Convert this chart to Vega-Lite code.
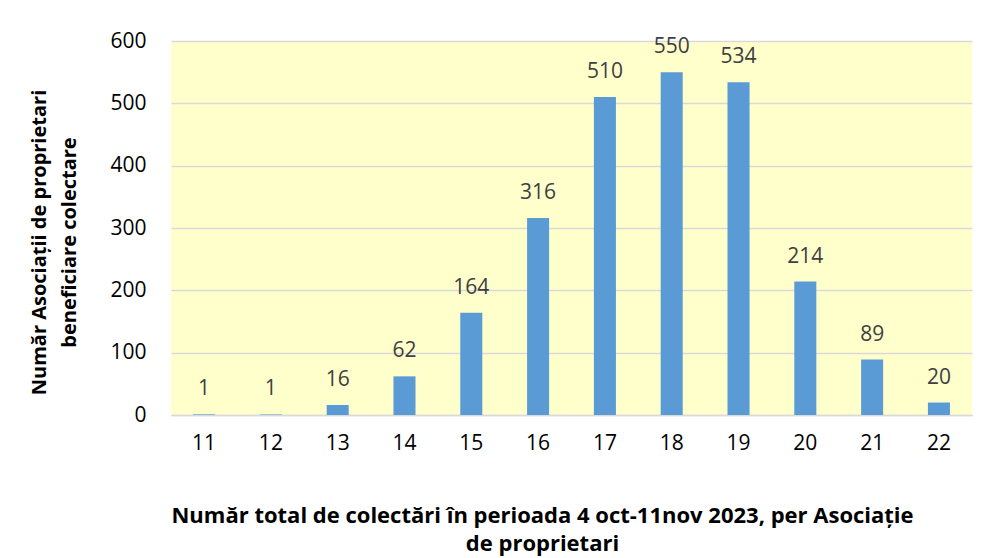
{
  "$schema": "https://vega.github.io/schema/vega-lite/v6.json",
  "autosize": "none",
  "width": 801,
  "height": 374,
  "padding": {"left": 171, "top": 41, "right": 15, "bottom": 143},
  "background": "white",
  "config": {
    "font": "Open Sans",
    "view": {"fill": "#FFFFCC", "stroke": null}
  },
  "data": {
    "values": [
      {"n": "11", "v": 1},
      {"n": "12", "v": 1},
      {"n": "13", "v": 16},
      {"n": "14", "v": 62},
      {"n": "15", "v": 164},
      {"n": "16", "v": 316},
      {"n": "17", "v": 510},
      {"n": "18", "v": 550},
      {"n": "19", "v": 534},
      {"n": "20", "v": 214},
      {"n": "21", "v": 89},
      {"n": "22", "v": 20}
    ]
  },
  "encoding": {
    "x": {
      "field": "n",
      "type": "ordinal",
      "sort": null,
      "scale": {"paddingInner": 0.67, "paddingOuter": 0.33},
      "axis": {
        "title": ["Număr total de colectări în perioada 4 oct-11nov 2023, per Asociație", "de proprietari"],
        "titleFont": "Open Sans",
        "titleFontSize": 22,
        "titleFontWeight": "bold",
        "titleColor": "#000000",
        "titlePadding": 52,
        "titleLineHeight": 28,
        "titleX": 371,
        "titleAlign": "center",
        "labelAngle": 0,
        "labelFontSize": 21,
        "labelColor": "#000000",
        "labelPadding": 17,
        "ticks": false,
        "domainColor": "#D9D9D9",
        "domainWidth": 1.5
      }
    },
    "y": {
      "field": "v",
      "type": "quantitative",
      "scale": {"domain": [0, 600]},
      "axis": {
        "title": ["Număr Asociații de proprietari", "beneficiare colectare"],
        "titleFont": "Open Sans",
        "titleFontSize": 20,
        "titleFontWeight": "bold",
        "titleColor": "#000000",
        "titlePadding": 30,
        "titleLineHeight": 30,
        "titleY": 201,
        "titleAlign": "center",
        "values": [0, 100, 200, 300, 400, 500, 600],
        "labelFontSize": 21,
        "labelColor": "#000000",
        "labelPadding": 25,
        "ticks": false,
        "domain": false,
        "gridColor": "#D9D9D9",
        "gridWidth": 1.5
      }
    }
  },
  "layer": [
    {"mark": {"type": "bar", "color": "#5B9BD5"}},
    {
      "mark": {"type": "text", "dy": -25, "fontSize": 21, "color": "#404040"},
      "encoding": {"text": {"field": "v", "type": "quantitative"}}
    }
  ]
}
